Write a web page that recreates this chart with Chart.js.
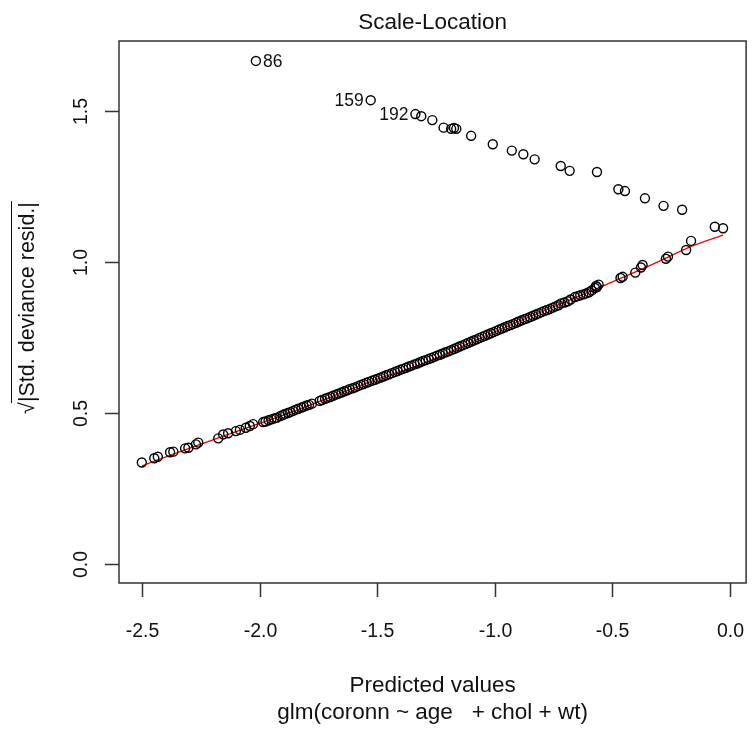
<!DOCTYPE html>
<html>
<head>
<meta charset="utf-8">
<script src="https://cdn.jsdelivr.net/npm/chart.js@4.4.1/dist/chart.umd.min.js"></script>
<style>
html,body{margin:0;padding:0;background:#fff;}
#wrap{width:752px;height:729px;}
</style>
</head>
<body>
<div id="wrap"><canvas id="c" width="752" height="729"></canvas></div>
<script>
// ---- data ----
const upperX = [-2.016,-1.528,-1.338,-1.313,-1.266,-1.218,-1.186,-1.174,-1.164,-1.101,-1.009,-0.928,-0.879,-0.831,-0.720,-0.682,-0.566,-0.475,-0.447,-0.362,-0.283,-0.204,-0.065,-0.030];
const upperY = [1.666,1.536,1.490,1.483,1.470,1.445,1.441,1.444,1.441,1.418,1.390,1.369,1.357,1.340,1.318,1.302,1.298,1.241,1.235,1.211,1.186,1.173,1.117,1.112];

const lowerX = [-2.501,-2.448,-2.433,-2.381,-2.367,-2.317,-2.303,-2.271,-2.261,-2.176,-2.155,-2.134,-2.101,-2.084,-2.059,-2.042,-2.028,
-1.985,-1.975,-1.962,-1.950,-1.938,-1.928,-1.912,-1.900,-1.891,-1.880,-1.870,-1.858,-1.846,-1.835,-1.822,-1.812,-1.800,-1.790,-1.778,
-1.745,-1.735,-1.722,-1.712,-1.700,-1.688,-1.676,-1.665,-1.652,-1.640,-1.628,-1.618,-1.605,-1.594,-1.582,-1.570,-1.558,-1.546,-1.535,
-1.522,-1.510,-1.498,-1.486,-1.474,-1.462,-1.450,-1.438,-1.425,-1.414,-1.402,-1.390,-1.378,-1.366,-1.354,-1.342,-1.330,-1.318,-1.306,
-1.294,-1.282,-1.270,-1.258,-1.246,-1.234,-1.222,-1.210,-1.198,-1.186,-1.174,-1.162,-1.150,-1.138,-1.126,-1.114,-1.102,-1.090,-1.078,
-1.066,-1.054,-1.042,-1.030,-1.018,-1.006,-0.994,-0.982,-0.970,-0.958,-0.946,-0.934,-0.922,-0.910,-0.898,-0.886,-0.874,-0.862,-0.850,
-0.838,-0.826,-0.814,-0.802,-0.790,-0.778,-0.766,-0.754,-0.742,-0.730,-0.719,-0.704,-0.690,-0.678,-0.660,-0.648,-0.637,-0.624,-0.612,
-0.600,-0.588,-0.575,-0.570,-0.566,-0.559,-0.466,-0.457,-0.403,-0.379,-0.372,-0.273,-0.264,-0.187,-0.166];
const lowerY = [0.336,0.350,0.355,0.370,0.372,0.383,0.385,0.396,0.402,0.416,0.429,0.433,0.440,0.444,0.451,0.457,0.463,
0.470,0.472,0.476,0.479,0.482,0.484,0.490,0.494,0.497,0.500,0.503,0.507,0.511,0.514,0.518,0.521,0.525,0.527,0.531,
0.540,0.543,0.547,0.550,0.553,0.557,0.561,0.564,0.568,0.572,0.575,0.579,0.582,0.585,0.589,0.593,0.596,0.600,0.603,
0.607,0.610,0.614,0.617,0.621,0.625,0.628,0.632,0.636,0.639,0.643,0.646,0.650,0.654,0.657,0.661,0.664,0.668,0.672,
0.675,0.679,0.682,0.686,0.690,0.693,0.697,0.701,0.704,0.708,0.712,0.716,0.720,0.724,0.728,0.732,0.736,0.740,0.744,
0.748,0.752,0.756,0.760,0.764,0.768,0.772,0.776,0.780,0.784,0.788,0.791,0.795,0.799,0.803,0.807,0.811,0.814,0.818,
0.822,0.826,0.830,0.834,0.838,0.841,0.845,0.849,0.853,0.857,0.863,0.866,0.870,0.876,0.884,0.887,0.890,0.893,0.896,
0.900,0.906,0.914,0.921,0.917,0.925,0.947,0.951,0.965,0.982,0.990,1.011,1.018,1.040,1.070];

const smoothX = [-2.50,-2.30,-2.10,-1.90,-1.70,-1.50,-1.30,-1.10,-0.90,-0.70,-0.55,-0.40,-0.30,-0.18,-0.03];
const smoothY = [0.325,0.383,0.438,0.493,0.552,0.612,0.665,0.735,0.803,0.868,0.918,0.968,1.003,1.047,1.089];

const xTicks = [-2.5,-2.0,-1.5,-1.0,-0.5,0.0];
const xTickLabels = ["-2.5","-2.0","-1.5","-1.0","-0.5","0.0"];
const yTicks = [0.0,0.5,1.0,1.5];
const yTickLabels = ["0.0","0.5","1.0","1.5"];

const idLabels = ["86","159","192"];
const idIndex = [0,1,2];      // indices into upper series
const idSide = ["right","left","left"];

const titleText = "Scale-Location";
const xLabel = "Predicted values";
const subText = "glm(coronn ~ age   + chol + wt)";
const yLabel = "|Std. deviance resid.|";

// ---- build ----
const toPts = (xs, ys) => xs.map((x, i) => ({x: x, y: ys[i]}));
const FONT = "Arial, 'Liberation Sans', sans-serif";

const decor = {
  id: 'decor',
  afterDraw(chart) {
    const ctx = chart.ctx;
    const a = chart.chartArea;
    const xs = chart.scales.x, ys = chart.scales.y;
    ctx.save();
    // box
    ctx.strokeStyle = '#333';
    ctx.lineWidth = 1.5;
    ctx.strokeRect(a.left, a.top, a.right - a.left, a.bottom - a.top);
    // x ticks
    ctx.fillStyle = '#111';
    ctx.font = "19.5px " + FONT;
    ctx.textAlign = 'center';
    ctx.textBaseline = 'middle';
    xTicks.forEach((v, i) => {
      const px = Math.round(xs.getPixelForValue(v)) + 0.5;
      ctx.beginPath();
      ctx.moveTo(px, a.bottom);
      ctx.lineTo(px, a.bottom + 14);
      ctx.stroke();
      ctx.fillText(xTickLabels[i], px, a.bottom + 49);
    });
    // y ticks
    yTicks.forEach((v, i) => {
      const py = Math.round(ys.getPixelForValue(v)) + 0.5;
      ctx.beginPath();
      ctx.moveTo(a.left, py);
      ctx.lineTo(a.left - 14, py);
      ctx.stroke();
      ctx.save();
      ctx.translate(a.left - 37, py);
      ctx.rotate(-Math.PI / 2);
      ctx.fillText(yTickLabels[i], 0, 0);
      ctx.restore();
    });
    // title
    ctx.font = "22.5px " + FONT;
    ctx.fillText(titleText, (a.left + a.right) / 2, 23);
    // x labels
    ctx.font = "22.5px " + FONT;
    ctx.fillText(xLabel, (a.left + a.right) / 2, 686);
    ctx.fillText(subText, (a.left + a.right) / 2, 713);
    // y label with sqrt
    ctx.save();
    ctx.translate(28, (a.top + a.bottom) / 2 - 4);
    ctx.rotate(-Math.PI / 2);
    ctx.font = "21.5px " + FONT;
    const wRoot = ctx.measureText("\u221A").width;
    const wText = ctx.measureText(yLabel).width;
    const total = wRoot + wText;
    ctx.textAlign = 'left';
    ctx.fillText("\u221A", -total / 2, 0);
    ctx.fillText(yLabel, -total / 2 + wRoot, 0);
    ctx.strokeStyle = '#111';
    ctx.lineWidth = 1;
    ctx.beginPath();
    ctx.moveTo(-total / 2 + wRoot - 1, -16.5);
    ctx.lineTo(total / 2 + 1, -16.5);
    ctx.stroke();
    ctx.restore();
    // id labels
    ctx.font = "17.5px " + FONT;
    idLabels.forEach((lab, k) => {
      const i = idIndex[k];
      const px = xs.getPixelForValue(upperX[i]);
      const py = ys.getPixelForValue(upperY[i]);
      if (idSide[k] === 'right') {
        ctx.textAlign = 'left';
        ctx.fillText(lab, px + 7, py + 1);
      } else {
        ctx.textAlign = 'right';
        ctx.fillText(lab, px - 7, py + 1);
      }
    });
    ctx.restore();
  }
};

new Chart(document.getElementById('c'), {
  type: 'scatter',
  data: {
    datasets: [
      {
        data: toPts(upperX, upperY),
        pointStyle: 'circle', pointRadius: 4.5, pointBorderWidth: 1.4,
        pointBorderColor: '#000', pointBackgroundColor: 'rgba(0,0,0,0)',
        showLine: false
      },
      {
        data: toPts(lowerX, lowerY),
        pointStyle: 'circle', pointRadius: 4.5, pointBorderWidth: 1.4,
        pointBorderColor: '#000', pointBackgroundColor: 'rgba(0,0,0,0)',
        showLine: false
      },
      {
        data: toPts(smoothX, smoothY),
        showLine: true, borderColor: '#ff0000', borderWidth: 1.3,
        pointRadius: 0, tension: 0.4, cubicInterpolationMode: 'monotone', fill: false
      }
    ]
  },
  options: {
    responsive: false,
    animation: false,
    events: [],
    layout: { padding: { left: 119, top: 41, right: 5, bottom: 146 } },
    plugins: { legend: { display: false }, tooltip: { enabled: false }, title: { display: false } },
    scales: {
      x: { type: 'linear', min: -2.598, max: 0.068, display: false },
      y: { type: 'linear', min: -0.063, max: 1.732, display: false }
    }
  },
  plugins: [decor]
});
</script>
</body>
</html>
